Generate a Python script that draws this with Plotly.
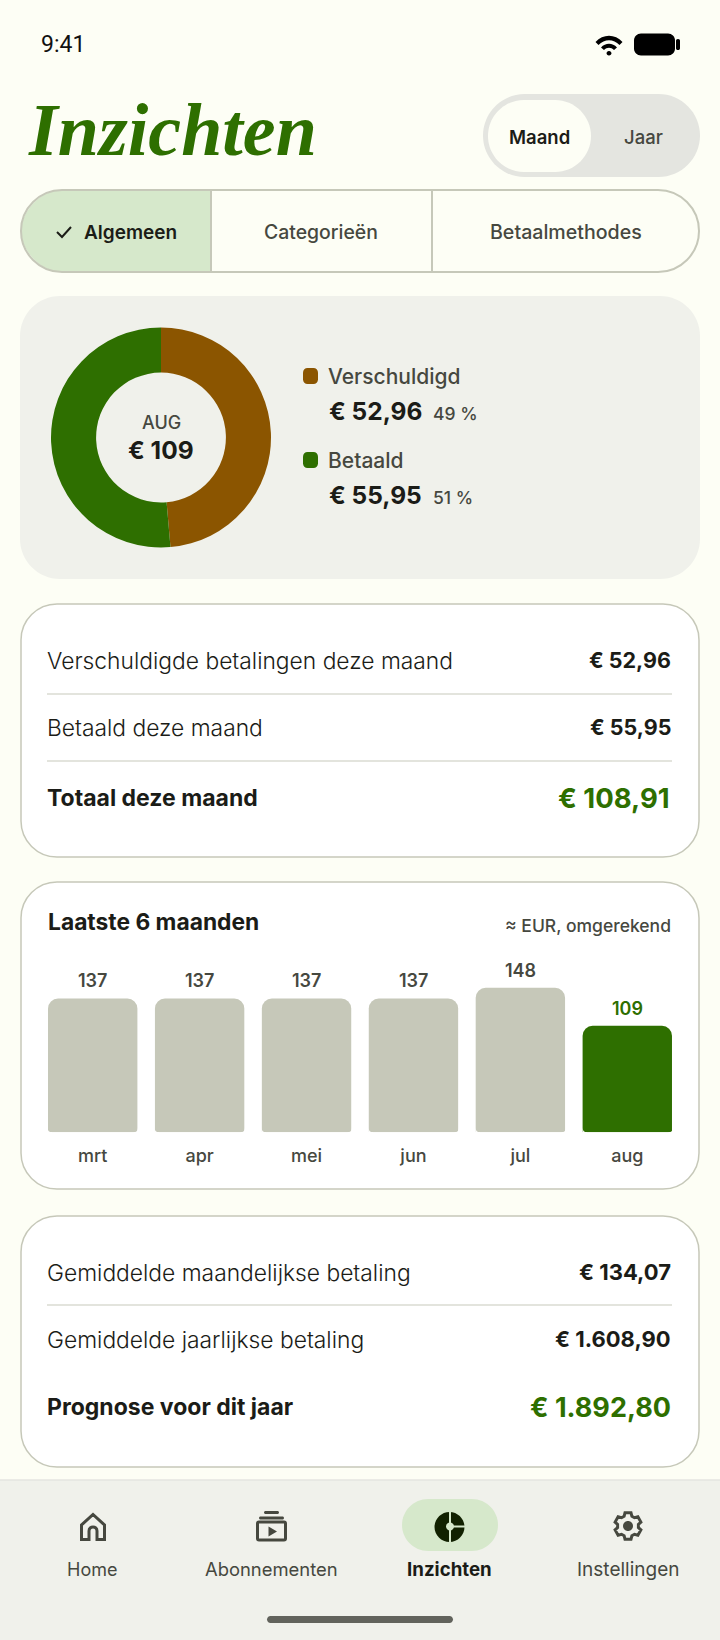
import math
import plotly.graph_objects as go

# Chart values
months = ['mrt', 'apr', 'mei', 'jun', 'jul', 'aug']
month_totals = [137, 137, 137, 137, 148, 109]
donut_labels = ['Verschuldigd', 'Betaald']
donut_values = [52.96, 55.95]
donut_pcts = ['49 %', '51 %']
donut_amounts = ['€ 52,96', '€ 55,95']

# Text rows in the list cards
rows_top = [('Verschuldigde betalingen deze maand', '€ 52,96'), ('Betaald deze maand', '€ 55,95')]
total_top = ('Totaal deze maand', '€ 108,91')
rows_bottom = [('Gemiddelde maandelijkse betaling', '€ 134,07'), ('Gemiddelde jaarlijkse betaling', '€ 1.608,90')]
total_bottom = ('Prognose voor dit jaar', '€ 1.892,80')
nav_labels = ['Home', 'Abonnementen', 'Inzichten', 'Instellingen']

BG = '#FDFEF5'
CARD = '#F0F1EB'
GREEN = '#2E6F00'
BROWN = '#8B5500'
BAR = '#C6C8B9'
CHIP = '#D6E8CB'
LINE = '#C6C8B9'
DARK = '#1B1C17'
MID = '#46483F'
FONT = 'Inter'

W, H = 720, 1640
fig = go.Figure()


def rrect(x0, y0, x1, y1, r):
    k = r * 0.45
    return (f'M{x0+r},{y0} L{x1-r},{y0} C{x1-k},{y0} {x1},{y0+k} {x1},{y0+r} '
            f'L{x1},{y1-r} C{x1},{y1-k} {x1-k},{y1} {x1-r},{y1} '
            f'L{x0+r},{y1} C{x0+k},{y1} {x0},{y1-k} {x0},{y1-r} '
            f'L{x0},{y0+r} C{x0},{y0+k} {x0+k},{y0} {x0+r},{y0} Z')


def add_path(path, fill=None, line=None, width=0, layer='below'):
    fig.add_shape(type='path', path=path, xref='x', yref='y', layer=layer,
                  fillcolor=fill if fill else 'rgba(0,0,0,0)',
                  line=dict(color=line if line else 'rgba(0,0,0,0)', width=width))


def add_text(x, y, text, size, color=DARK, weight=400, anchor='left', family=FONT, style='normal'):
    fig.add_annotation(x=x, y=y, text=text, xref='x', yref='y', showarrow=False,
                       xanchor=anchor, yanchor='middle', borderpad=0,
                       font=dict(family=family, size=size, color=color, weight=weight, style=style))


def hline(x0, x1, y, color='#DADBD2', width=1.5):
    add_path(f'M{x0},{y} L{x1},{y}', line=color, width=width)


# Status bar
add_text(40, 44, '9:41', 23, '#111111', 400, family='Roboto')
add_path('M595.5,42 C603,33.5 615,33.5 622.5,42 L619.5,45 C613.5,38.5 604.5,38.5 598.5,45 Z', fill='#000000')
add_path('M601,47.5 C605.5,42.5 612.5,42.5 617,47.5 L614,50 C611,47 607,47 604,50 Z', fill='#000000')
add_path(rrect(606.5, 51, 611.5, 55.5, 2.4), fill='#000000')
add_path(rrect(634, 33.5, 675, 55.5, 7), fill='#000000')
add_path(rrect(676, 39, 680, 50, 1.8), fill='#000000')

# Header
add_text(27, 130, 'Inzichten', 74, GREEN, 700, family='Liberation Serif', style='italic')
add_path(rrect(483, 94, 700, 177, 41.5), fill='#E4E5E0')
add_path(rrect(488, 100, 591, 172, 36), fill=BG)
add_text(539.5, 137, 'Maand', 18.5, DARK, 600, 'center')
add_text(643, 137, 'Jaar', 18.5, MID, 500, 'center')

# Filter tabs
r = 41
add_path(f'M211,190 L{21+r},190 C{21+r*.45},190 21,{190+r*.55} 21,231 '
         f'C21,{272-r*.55} {21+r*.45},272 {21+r},272 L211,272 Z', fill=CHIP)
add_path(rrect(21, 190, 699, 272, r), line=LINE, width=2)
add_path('M211,190 L211,272', line=LINE, width=2)
add_path('M432,190 L432,272', line=LINE, width=2)
add_path('M57,232 L62,237 L71,227', line=DARK, width=2)
add_text(83, 232, 'Algemeen', 19, DARK, 600)
add_text(321, 232, 'Categorieën', 19.4, MID, 500, 'center')
add_text(566, 232, 'Betaalmethodes', 19.6, MID, 500, 'center')

# Donut card
add_path(rrect(20, 296, 700, 579, 40), fill=CARD)
fig.add_trace(go.Pie(labels=donut_labels, values=donut_values, hole=0.59, sort=False, direction='clockwise',
                     rotation=0, marker=dict(colors=[BROWN, GREEN], line=dict(width=0)),
                     textinfo='none', hoverinfo='label+value', showlegend=False,
                     domain=dict(x=[51 / W, 271 / W], y=[1 - 548 / H, 1 - 327 / H])))
add_text(161, 422, 'AUG', 18, MID, 500, 'center')
add_text(161, 450, '€ 109', 24.5, DARK, 700, 'center')
legend_y = [376, 460]
legend_colors = [BROWN, GREEN]
for i in range(2):
    add_path(rrect(303, legend_y[i] - 8, 318, legend_y[i] + 8, 4.5), fill=legend_colors[i])
    add_text(327, legend_y[i], donut_labels[i], 21, MID, 500)
    add_text(328, legend_y[i] + 35, donut_amounts[i], 24.5, DARK, 700)
    add_text(432, legend_y[i] + 37, donut_pcts[i], 17.5, MID, 500)

# First list card
add_path(rrect(21, 604, 699, 857, 36), fill='#FFFFFF', line=LINE, width=1.5)
add_text(46, 660, rows_top[0][0], 22.8, DARK, 300)
add_text(672, 660, rows_top[0][1], 21.5, DARK, 700, 'right')
hline(47, 672, 694)
add_text(46, 727, rows_top[1][0], 22.8, DARK, 300)
add_text(672, 727, rows_top[1][1], 21.5, DARK, 700, 'right')
hline(47, 672, 761)
add_text(46, 798, total_top[0], 23, DARK, 700)
add_text(671, 798, total_top[1], 27.5, GREEN, 700, 'right')

# Bar card
add_path(rrect(21, 882, 699, 1189, 36), fill='#FFFFFF', line=LINE, width=1.5)
add_text(47, 921, 'Laatste 6 maanden', 22.8, DARK, 700)
add_text(672, 925, '≈ EUR, omgerekend', 17.5, MID, 500, 'right')
colors = [BAR] * 5 + [GREEN]
fig.add_trace(go.Bar(x=months, y=month_totals, marker=dict(color=colors, cornerradius=10, line=dict(width=0)),
                     width=0.836, showlegend=False, hoverinfo='x+y', xaxis='x2', yaxis='y2'))
for m, v, c in zip(months, month_totals, [MID] * 5 + [GREEN]):
    fig.add_annotation(x=m, y=v, text=str(v), xref='x2', yref='y2', showarrow=False, yanchor='bottom',
                       yshift=5, font=dict(family=FONT, size=18, color=c, weight=600))

# small rounding at the foot of each bar
for i in range(len(months)):
    left = 48 + 107 * i
    right = left + 89.5
    add_path(f'M{left-0.5},1128 C{left},1131 {left+1},1132.3 {left+4},1132.3 L{left+4},1133 L{left-0.5},1133 Z',
             fill='#FFFFFF', layer='above')
    add_path(f'M{right+0.5},1128 C{right},1131 {right-1},1132.3 {right-4},1132.3 L{right-4},1133 L{right+0.5},1133 Z',
             fill='#FFFFFF', layer='above')

# Last list card
add_path(rrect(21, 1216, 699, 1467, 36), fill='#FFFFFF', line=LINE, width=1.5)
add_text(46, 1272, rows_bottom[0][0], 22.8, DARK, 300)
add_text(672, 1272, rows_bottom[0][1], 22, DARK, 700, 'right')
hline(47, 672, 1305)
add_text(46, 1339, rows_bottom[1][0], 22.8, DARK, 300)
add_text(672, 1339, rows_bottom[1][1], 22, DARK, 700, 'right')
add_text(46, 1407, total_bottom[0], 23, DARK, 700)
add_text(672, 1407, total_bottom[1], 27, GREEN, 700, 'right')

# Bottom navigation
add_path('M0,1480 L720,1480 L720,1640 L0,1640 Z', fill=CARD)
hline(0, 720, 1480, '#E4E5E0', 1.5)
add_path(rrect(402, 1499, 498, 1551, 26), fill=CHIP)
nav_x = [92, 271, 449.5, 628]
nav_sizes = [18, 18.4, 18.7, 19]
for lab, x, s in zip(nav_labels, nav_x, nav_sizes):
    active = lab == 'Inzichten'
    add_text(x, 1569, lab, s, DARK if active else MID, 700 if active else 400, 'center')

# home icon
add_path('M81.5,1539.5 L81.5,1525 L93,1514.5 L104.5,1525 L104.5,1539.5 L97,1539.5 L97,1531 '
         'C97,1525.5 89,1525.5 89,1531 L89,1539.5 Z', line=MID, width=3)
# subscriptions icon
add_path(rrect(257.5, 1522, 285.5, 1540, 1.5), line=MID, width=3)
add_path('M268.5,1526.5 L277,1531.5 L268.5,1536.5 Z', fill=MID)
add_path(rrect(264, 1511, 279, 1514, 1.5), fill=MID)
add_path(rrect(259, 1516.5, 284, 1519.5, 1.5), fill=MID)
# insights icon
add_path(rrect(434.5, 1512, 464.5, 1542, 15), fill='#112100')
add_path('M450,1511 L450,1543', line=CHIP, width=2)
add_path('M452,1526.5 L466,1526.5', line=CHIP, width=2)
add_path(rrect(446, 1522.5, 454, 1530.5, 4), fill=CHIP)
# gear icon, six teeth
cx, cy = 628, 1526
pts = []
for i in range(6):
    a = i * 60 - 90
    for da, rad in ((-13, 13.5), (13, 13.5), (22, 10.5), (38, 10.5)):
        t = math.radians(a + da)
        pts.append((cx + rad * math.cos(t), cy + rad * math.sin(t)))
add_path('M' + ' L'.join(f'{px:.1f},{py:.1f}' for px, py in pts) + ' Z', line=MID, width=3)
add_path(rrect(623, 1521, 633, 1531, 5), fill=MID)

# home indicator
add_path(rrect(267, 1616, 453, 1623, 3.5), fill='#62635C')

fig.update_layout(
    width=W, height=H, margin=dict(l=0, r=0, t=0, b=0),
    paper_bgcolor=BG, plot_bgcolor='rgba(0,0,0,0)', showlegend=False,
    font=dict(family=FONT),
    xaxis=dict(domain=[0, 1], range=[0, W], visible=False, fixedrange=True),
    yaxis=dict(domain=[0, 1], range=[H, 0], visible=False, fixedrange=True),
    xaxis2=dict(domain=[39.25 / W, 680.75 / W], type='category', range=[-0.5, 5.5], showgrid=False, anchor='y2',
                zeroline=False, showline=False, ticks='outside', ticklen=7, tickcolor='rgba(0,0,0,0)',
                tickfont=dict(family=FONT, size=18, color=MID, weight=500), fixedrange=True),
    yaxis2=dict(domain=[1 - 1132.3 / H, 1 - 976 / H], range=[0, 160], visible=False, anchor='x2', fixedrange=True),
)

# keeps the pixel axes alive for the card shapes
fig.add_trace(go.Scatter(x=[0], y=[0], xaxis='x', yaxis='y', mode='markers', marker=dict(opacity=0),
                         hoverinfo='skip', showlegend=False))

fig.write_html('out.html', config=dict(displayModeBar=False), post_script='document.body.style.margin="0";')
